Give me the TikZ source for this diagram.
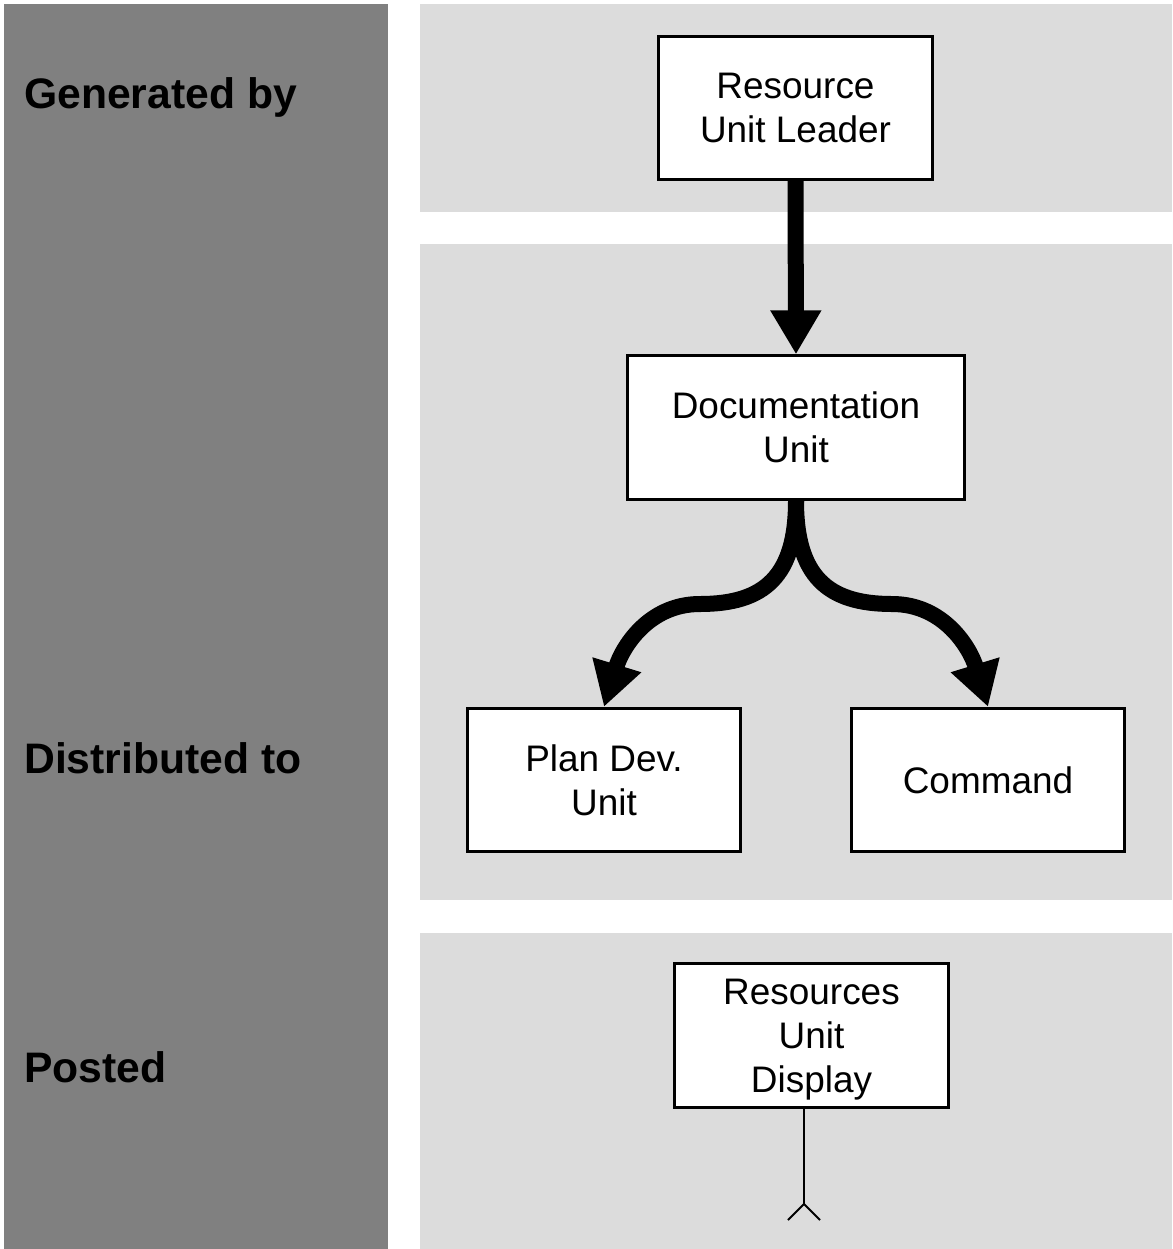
\documentclass[tikz,border=0pt]{standalone}
\usepackage{fontspec}
\setmainfont{Liberation Sans}
\usetikzlibrary{arrows.meta}
\definecolor{darkpanel}{HTML}{808080}
\definecolor{lightpanel}{HTML}{DCDCDC}
\begin{document}
\begin{tikzpicture}[x=0.75pt,y=-0.75pt,
  box/.style={draw=black,line width=2.25pt,fill=white,align=center,
    font=\fontsize{27.7}{33}\selectfont,inner sep=0pt},
  lbl/.style={anchor=base west,font=\fontsize{32}{38}\selectfont\bfseries,inner sep=0pt},
  bigarrow/.style={line width=12pt,-{Triangle[width=36pt,length=33pt]}},
  thin/.style={line width=1.5pt}]
\useasboundingbox (0,0) rectangle (1172,1249);
\fill[white] (0,0) rectangle (1172,1249);
% panels
\fill[darkpanel] (4,4) rectangle (388,1249);
\fill[lightpanel] (420,4) rectangle (1172,212);
\fill[lightpanel] (420,244) rectangle (1172,900);
\fill[lightpanel] (420,933) rectangle (1172,1249);
% labels
\node[lbl] (lgen) at (24,108) {Generated by};
\node[lbl] (ldist) at (24,773) {Distributed to};
\node[lbl] (lpost) at (24,1082) {Posted};
% boxes
\node[box,minimum width=205pt,minimum height=107.5pt] (rul) at (795.5,108) {Resource\\Unit Leader};
\node[box,minimum width=252.5pt,minimum height=107.5pt] (doc) at (796,427.5) {Documentation\\Unit};
\node[box,minimum width=205pt,minimum height=107.5pt] (plan) at (604,780) {Plan Dev.\\Unit};
\node[box,minimum width=205pt,minimum height=107.5pt] (cmd) at (988,780) {Command};
\node[box,minimum width=205pt,minimum height=107.5pt,text depth=0pt] (disp) at (811.5,1035.5) {Resources\\Unit\\Display};
% connectors
\draw[bigarrow] (rul.south) -- (doc.north);
\draw[bigarrow] (doc.south) .. controls +(0,75) and (765,604) .. (700,604)
  .. controls (648,604) and (622,648) .. (plan.north);
\draw[bigarrow] (doc.south) .. controls +(0,75) and (827,604) .. (892,604)
  .. controls (944,604) and (970,648) .. (cmd.north);
\coordinate (stubend) at (804,1204);
\draw[thin] (disp.south -| stubend) -- (stubend);
\draw[thin] ([shift={(-16,16)}]stubend) -- (stubend) -- ([shift={(16,16)}]stubend);
\end{tikzpicture}
\end{document}
